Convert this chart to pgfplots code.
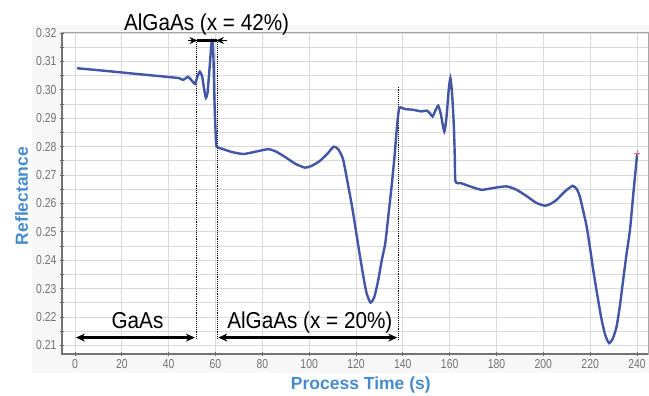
\documentclass[border=0pt]{standalone}
\usepackage{pgfplots}
\pgfplotsset{compat=1.18}
\usepackage{fontspec}
\setmainfont{Liberation Sans}
\newfontfamily\narrowfont[FakeStretch=0.8]{Liberation Sans}
\newfontfamily\annofont[FakeStretch=0.9]{Liberation Sans}
\usetikzlibrary{arrows.meta}
\definecolor{curveblue}{RGB}{66,86,166}
\definecolor{labelblue}{RGB}{70,140,205}
\definecolor{gridgray}{RGB}{218,218,218}
\definecolor{ticklab}{RGB}{115,115,115}
\definecolor{panel}{RGB}{247,247,247}
\definecolor{endmark}{RGB}{220,110,140}
\begin{document}
\begin{tikzpicture}
\fill[panel] (-30bp,-19bp) rectangle (587bp,329bp);
\begin{axis}[
  at={(0,0)}, anchor=south west,
  scale only axis, width=586bp, height=321bp,
  xmin=-5.55, xmax=244.7, ymin=0.2070, ymax=0.3200,
  clip=false,
  axis background/.style={fill=white},
  xtick={0,20,...,240},
  ytick={0.21,0.22,0.23,0.24,0.25,0.26,0.27,0.28,0.29,0.30,0.31,0.32},
  minor y tick num=1,
  xtick pos=bottom, ytick pos=left,
  tick align=center,
  major tick length=4bp, minor tick length=4bp,
  tick style={draw=black!60, line width=0.8bp},
  grid=both,
  major grid style={draw=gridgray, line width=0.9bp},
  minor grid style={draw=gridgray, line width=0.8bp},
  axis line style={draw=black!35, line width=1bp},
  /pgf/number format/assume math mode=true,
  yticklabel style={/pgf/number format/fixed, /pgf/number format/fixed zerofill, /pgf/number format/precision=2},
  ticklabel style={font=\narrowfont\fontsize{13bp}{15bp}\selectfont, text=ticklab},
  xlabel={Process Time (s)},
  ylabel={Reflectance},
  xlabel style={at={(rel axis cs:0.510,-0.0966)}, anchor=center, font=\bfseries\fontsize{17.5bp}{20bp}\selectfont, text=labelblue},
  ylabel style={at={(rel axis cs:-0.0691,0.492)}, anchor=center, font=\bfseries\fontsize{17.5bp}{20bp}\selectfont, text=labelblue},
]
\draw[black!55, line width=2bp] (rel axis cs:0,1) -- (rel axis cs:0,0) -- (rel axis cs:1,0);
% dotted separators
\draw[densely dotted, black, line width=0.9bp] (axis cs:51.7,0.3174) -- (axis cs:51.7,0.2120);
\draw[densely dotted, black, line width=0.9bp] (axis cs:60.8,0.3174) -- (axis cs:60.8,0.2120);
\draw[densely dotted, black, line width=0.9bp] (axis cs:138.0,0.3011) -- (axis cs:138.0,0.2120);
\addplot[curveblue, line width=2.4bp, smooth, tension=0.35] coordinates {
(0.9,0.3076) (10,0.3069) (20,0.3061) (30,0.3053) (40,0.3045) (44.5,0.3041)
(46,0.3035) (47.2,0.3040) (48.2,0.3046) (49.5,0.3036) (51.2,0.3021) (52.2,0.3045)
(53.3,0.3064) (54.3,0.3047) (55.2,0.3000) (55.9,0.2972) (56.6,0.2990) (57.5,0.3080)
(58.3,0.3165) (58.7,0.3172) (59.1,0.3120) (59.6,0.2950) (60.1,0.2840) (60.5,0.2800)
(63,0.2792) (67,0.2781) (72,0.2774) (77,0.2782) (82.5,0.2791) (86,0.2782)
(90,0.2762) (94,0.2740) (98.2,0.2726) (101,0.2732) (104.6,0.2750) (108,0.2777)
(110.5,0.2800) (112.5,0.2790) (114.5,0.2755) (116.5,0.2670) (118.5,0.2580) (121,0.2450)
(123,0.2350) (124.5,0.2285) (126.2,0.2251) (127.8,0.2270) (129.5,0.2330) (131,0.2400)
(132.5,0.2460) (134,0.2570) (135.2,0.2660) (136.5,0.2770) (137.5,0.2870) (138.5,0.2936)
(141,0.2932) (144,0.2930) (148,0.2924) (150.1,0.2927) (151.5,0.2918) (152.7,0.2906)
(153.8,0.2925) (155.1,0.2944) (156.2,0.2915) (157.7,0.2853) (158.6,0.2900) (159.6,0.3000)
(160.3,0.3041) (161.0,0.2990) (161.8,0.2871) (162.2,0.2760) (162.5,0.2677) (165,0.2671)
(168.7,0.2660) (173.6,0.2648) (179,0.2655) (184.3,0.2660) (188.6,0.2648) (193,0.2625)
(197,0.2602) (200.7,0.2592) (203,0.2598) (205.7,0.2613) (209.2,0.2642) (212.5,0.2662)
(214.3,0.2650) (215.6,0.2624) (217,0.2575) (218.5,0.2519) (220,0.2440) (221.3,0.2366)
(223,0.2280) (224.9,0.2190) (226.5,0.2135) (228.1,0.2108) (229.7,0.2125) (231.3,0.2167)
(232.7,0.2240) (234.1,0.2331) (235.5,0.2420) (237.0,0.2507) (238.5,0.2640) (240.1,0.2777)
};
\addplot[only marks, mark=+, mark size=3bp, endmark, line width=0.8bp] coordinates {(240.1,0.2777)};
% annotations
\node[anchor=base, font=\annofont\fontsize{23bp}{26bp}\selectfont] at (axis cs:56.2,0.32088) {AlGaAs (x = 42\%)};
\node[anchor=base, font=\annofont\fontsize{23bp}{26bp}\selectfont] at (axis cs:26.7,0.21609) {GaAs};
\node[anchor=base, font=\annofont\fontsize{23bp}{26bp}\selectfont] at (axis cs:100.3,0.21609) {AlGaAs (x = 20\%)};
\draw[line width=2.6bp, {Stealth[length=9bp,width=8bp]}-{Stealth[length=9bp,width=8bp]}] (axis cs:0.4,0.21278) -- (axis cs:51.2,0.21278);
\draw[line width=2.6bp, {Stealth[length=9bp,width=8bp]}-{Stealth[length=9bp,width=8bp]}] (axis cs:61.2,0.21278) -- (axis cs:137.6,0.21278);
\draw[line width=2.8bp, black] (axis cs:52.0,0.31736) -- (axis cs:60.5,0.31736);
\draw[line width=0.8bp, -{Stealth[length=8bp,width=7bp]}] (axis cs:48.1,0.31736) -- (axis cs:52.3,0.31736);
\draw[line width=0.8bp, -{Stealth[length=8bp,width=7bp]}] (axis cs:64.8,0.31736) -- (axis cs:60.2,0.31736);
\end{axis}
\pgfresetboundingbox
\path[use as bounding box] (-62bp,-42bp) rectangle (587bp,354bp);
\end{tikzpicture}
\end{document}
